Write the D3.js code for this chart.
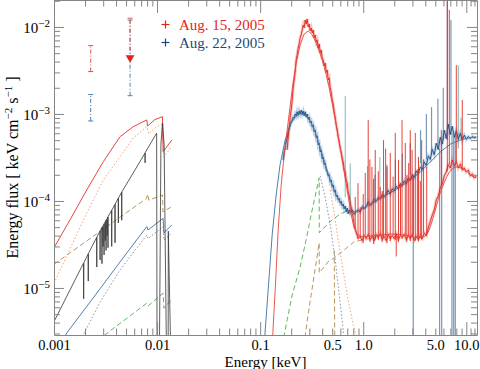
<!DOCTYPE html>
<html><head><meta charset="utf-8">
<script src="https://cdn.jsdelivr.net/npm/d3@7"></script>
<style>body{margin:0;background:#fff}svg{display:block}</style>
</head><body><svg id="c" width="480" height="369"></svg>
<script>
// ---------- axis limits & ticks ----------
const xDomain = [0.001, 12.7];
const yDomain = [2.88e-6, 2.04e-2];
const xMajor = [0.001, 0.01, 0.1, 1, 10];
const xMinor = [0.002,0.003,0.004,0.005,0.006,0.007,0.008,0.009,0.02,0.03,0.04,0.05,0.06,0.07,0.08,0.09,0.2,0.3,0.4,0.5,0.6,0.7,0.8,0.9,2,3,4,5,6,7,8,9,11,12];
const xLabels = [[0.001,"0.001"],[0.01,"0.01"],[0.1,"0.1"],[0.5,"0.5"],[1,"1.0"],[5,"5.0"],[10,"10.0"]];
const yMajor = [1e-5, 1e-4, 1e-3, 1e-2];
const yMinor = [3e-6,4e-6,5e-6,6e-6,7e-6,8e-6,9e-6,2e-5,3e-5,4e-5,5e-5,6e-5,7e-5,8e-5,9e-5,2e-4,3e-4,4e-4,5e-4,6e-4,7e-4,8e-4,9e-4,2e-3,3e-3,4e-3,5e-3,6e-3,7e-3,8e-3,9e-3,2e-2];
const yLabelExp = [[1e-5,"−5"],[1e-4,"−4"],[1e-3,"−3"],[1e-2,"−2"]];
const legendLabels = ["Aug. 15, 2005", "Aug. 22, 2005"];

// ---------- optical / UV models ----------
const redOpt = [[0.001,2.9e-5],[0.00143,6.07e-5],[0.00208,1.34e-4],[0.00301,2.83e-4],[0.00437,5.48e-4],[0.00588,7.14e-4],[0.00794,8.53e-4],[0.0081,7.28e-4],[0.0095,8.6e-4],[0.01128,9.3e-4],[0.01144,3.69e-4],[0.0139,5.02e-4]];
const orangeOpt = [[0.001,1.13e-5],[0.00208,7.3e-5],[0.00301,1.74e-4],[0.00437,3.23e-4],[0.00588,5.3e-4],[0.00794,7.14e-4],[0.0083,5.9e-4],[0.0097,7.0e-4],[0.01144,7.8e-4],[0.0116,3.23e-4],[0.0139,4.2e-4]];
const brownOpt = [[0.001,1.87e-5],[0.0028,4.47e-5],[0.0079,1.07e-4],[0.0081,1.2e-4],[0.0083,1.02e-4],[0.0113,1.17e-4],[0.0114,7.5e-5],[0.0139,8.6e-5]];
const blueOpt = [[0.00125,2.66e-6],[0.00133,3.04e-6],[0.0028,9.8e-6],[0.00437,1.99e-5],[0.00794,5.07e-5],[0.00818,4.64e-5],[0.01144,6.32e-5],[0.01165,4.29e-5],[0.0139,5.3e-5]];
const blueDotOpt = [[0.00183,2.52e-6],[0.00193,2.9e-6],[0.0028,6.9e-6],[0.00437,1.61e-5],[0.00794,4.06e-5],[0.00818,3.7e-5],[0.01144,5.07e-5],[0.01165,3.56e-5],[0.0139,4.26e-5]];
const greenOpt = [[0.00267,2.52e-6],[0.00794,6.67e-6],[0.00818,6.2e-6],[0.01144,8.7e-6],[0.01165,5.85e-6],[0.0139,7.4e-6]];
const blackOpt = [[0.001,4.1e-6],[0.0019,1.85e-5],
 [0.00193,1.92e-5],[0.00194,7.5e-6],[0.00195,1.95e-5],
 [0.00214,2.45e-5],[0.00215,1.2e-5],[0.00216,2.5e-5],
 [0.00259,3.8e-5],[0.0026,1.74e-5],[0.00261,3.85e-5],
 [0.00279,4.5e-5],[0.0028,2.1e-5],[0.00281,4.55e-5],
 [0.00291,4.95e-5],[0.00292,1.9e-5],[0.00293,5.0e-5],
 [0.00297,5.1e-5],[0.00299,3.0e-5],[0.003,5.2e-5],
 [0.00305,5.4e-5],[0.00306,2.4e-5],[0.00307,5.5e-5],
 [0.00313,5.7e-5],[0.00314,3.5e-5],[0.00315,5.8e-5],
 [0.00319,6.0e-5],[0.0032,2.7e-5],[0.00321,6.05e-5],
 [0.00327,6.2e-5],[0.00328,4.0e-5],[0.00329,6.3e-5],
 [0.00333,6.55e-5],[0.00334,2.9e-5],[0.00335,6.6e-5],
 [0.00362,7.8e-5],[0.00363,3.0e-5],[0.00364,7.85e-5],
 [0.0039,9.1e-5],[0.00391,3.3e-5],[0.00392,9.2e-5],
 [0.0042,1.07e-4],[0.00421,5.6e-5],[0.00422,1.08e-4],
 [0.00453,1.26e-4],[0.00454,6.0e-5],[0.00455,1.27e-4],
 [0.00468,1.34e-4],
 [0.00764,3.55e-4],[0.00765,2.74e-4],[0.00766,3.58e-4],
 [0.00794,3.86e-4],[0.0099,6.0e-4],[0.01,1e-6],[0.0105,1e-6],[0.0109,4.5e-4],[0.01128,7.8e-4],[0.0117,4.5e-4],[0.0124,1e-6],
 [0.0128,1e-6],[0.01285,4.5e-5],[0.0137,1e-6]];

// UV photometry: [E, low, high]
const redBars = [[0.00227, 3.07e-3, 6.1e-3]];
const redLimits = [[0.00547, 4.2e-3, 1.26e-2]];
const blueBars = [[0.00227, 8.3e-4, 1.67e-3],[0.00547, 1.62e-3, 1.2e-2]];

// ---------- X-ray models ----------
const redModelX = [[0.1308,2.2e-6],[0.14,9.5e-6],[0.1496,4.64e-5],[0.16,1.53e-4],[0.171,3.38e-4],[0.187,8.1e-4],[0.2045,1.89e-3],[0.2236,3.86e-3],[0.2445,6.21e-3],[0.2674,8.3e-3],[0.2924,8.99e-3],[0.3197,8.09e-3],[0.3496,6.55e-3],[0.3823,4.9e-3],[0.4181,3.47e-3],[0.4572,2.27e-3],[0.5,1.34e-3],[0.5468,7.47e-4],[0.5979,4.07e-4],[0.6538,2.15e-4],[0.7151,1.14e-4],[0.7646,6.9e-5],[0.818,4.9e-5],[0.8744,4.18e-5],[0.978,3.86e-5],[1.17,3.96e-5],[1.462,4.07e-5],[1.912,4.18e-5],[2.501,4.07e-5],[3.058,3.86e-5],[3.497,3.76e-5],[4.0,3.96e-5],[4.277,4.4e-5],[4.573,5.44e-5],[4.89,7.1e-5],[5.229,9.48e-5],[5.592,1.24e-4],[5.98,1.53e-4],[6.394,1.84e-4],[6.839,2.15e-4],[7.313,2.33e-4],[7.82,2.46e-4],[8.362,2.46e-4],[8.942,2.39e-4],[9.563,2.27e-4],[10.23,2.15e-4],[10.94,1.99e-4],[11.7,1.89e-4],[12.51,1.84e-4]];
const blueModelX = [[0.1093,2.2e-6],[0.1196,9.5e-6],[0.1308,4.07e-5],[0.143,1.17e-4],[0.156,2.6e-4],[0.1748,5.02e-4],[0.1956,7.5e-4],[0.2186,9.2e-4],[0.2445,1.0e-3],[0.2734,9.7e-4],[0.3058,8.3e-4],[0.3419,6.2e-4],[0.3823,4.07e-4],[0.4275,2.66e-4],[0.4781,1.74e-4],[0.5347,1.24e-4],[0.5979,9.5e-5],[0.6686,8.1e-5],[0.7478,7.5e-5],[0.8551,7.5e-5],[0.978,8.1e-5],[1.17,9.2e-5],[1.462,1.07e-4],[1.829,1.24e-4],[2.287,1.45e-4],[2.86,1.74e-4],[3.577,2.15e-4],[4.473,2.8e-4],[5.592,3.66e-4],[6.992,4.5e-4],[8.745,5.02e-4],[10.46,5.3e-4],[12.51,5.44e-4]];
const greenX = [[0.1635,2.2e-6],[0.1829,4.3e-6],[0.2045,8.3e-6],[0.2445,1.74e-5],[0.2796,3.6e-5],[0.3197,7.9e-5],[0.3738,1.84e-4],[0.3745,4.3e-5],[0.4781,5.8e-5],[0.5979,7.1e-5],[0.7478,7.9e-5]];
const brownX = [[0.265,2.2e-6],[0.2924,5.0e-6],[0.3343,1.4e-5],[0.3738,3.3e-5],[0.3745,1.49e-5],[0.4572,2.0e-5],[0.5468,2.3e-5],[0.818,3.4e-5],[1.56,4.0e-5]];
const brown2X = [[0.5229,2.7e-5],[0.53,2.2e-6]];
const orangeX = [[0.4781,1.34e-4],[0.5229,7.2e-5],[0.5718,3.56e-5],[0.6252,1.84e-5],[0.6993,8.3e-6],[0.7819,4.29e-6],[0.8744,2.5e-6]];
const grayX = [[0.3823,1.94e-4],[0.4275,1.11e-4],[0.4781,5.3e-5],[0.5347,2.1e-5],[0.5848,8.3e-6],[0.6394,3.3e-6],[0.6538,2.5e-6]];

// ---------- X-ray data ----------
const redData = [[0.1829,3.86e-4],[0.187,5.3e-4],[0.1912,6.9e-4],[0.1956,9.2e-4],[0.2,1.11e-3],[0.2045,1.45e-3],[0.2091,2.0e-3],[0.2138,2.46e-3],[0.2186,3.0e-3],[0.2236,4.2e-3],[0.2286,4.8e-3],[0.2338,5.7e-3],[0.2391,6.4e-3],[0.2445,7.5e-3],[0.25,8.1e-3],[0.2557,9.24e-3],[0.2615,1.054e-2],[0.2674,9.74e-3],[0.2734,1.2e-2],[0.2796,1.08e-2],[0.2859,1.235e-2],[0.2924,1.0e-2],[0.299,1.08e-2],[0.3058,9.0e-3],[0.3127,9.74e-3],[0.3197,8.5e-3],[0.3269,9.24e-3],[0.3343,7.5e-3],[0.3419,8.1e-3],[0.3496,6.7e-3],[0.3575,7.1e-3],[0.3656,5.7e-3],[0.3738,6.4e-3],[0.3823,5.0e-3],[0.3909,5.44e-3],[0.3998,4.4e-3],[0.4088,4.2e-3],[0.4181,3.56e-3],[0.4275,3.86e-3],[0.4372,3.0e-3],[0.4471,3.2e-3],[0.4572,2.46e-3],[0.4675,2.6e-3],[0.4781,2.0e-3],[0.4889,1.79e-3],[0.5,1.45e-3],[0.5113,1.3e-3],[0.5229,1.06e-3],[0.5347,9.2e-4],[0.5468,7.5e-4],[0.5592,6.55e-4],[0.5718,5.44e-4],[0.5848,4.75e-4],[0.5979,4.07e-4],[0.6114,3.66e-4],[0.6252,3.12e-4],[0.6394,2.8e-4],[0.6538,2.27e-4],[0.6686,2.15e-4],[0.6839,1.74e-4],[0.6993,1.61e-4],[0.7151,1.27e-4],[0.7313,1.14e-4],[0.7478,9.5e-5],[0.7646,8.5e-5],[0.7819,7.1e-5],[0.7997,6.4e-5],[0.818,5.2e-5],[0.836,4.8e-5],[0.8551,4.3e-5],[0.8745,4.0e-5],[0.8942,3.7e-5],
[0.935,3.9e-5],[0.978,3.5e-5],[1.022,4.0e-5],[1.069,3.7e-5],[1.118,4.1e-5],[1.17,3.6e-5],[1.223,3.9e-5],[1.279,3.5e-5],[1.338,4.1e-5],[1.399,3.8e-5],[1.462,4.2e-5],[1.53,3.6e-5],[1.6,3.9e-5],[1.672,3.5e-5],[1.749,4.1e-5],[1.829,3.7e-5],[1.912,4.0e-5],[2.0,3.7e-5],[2.091,4.2e-5],[2.187,3.6e-5],[2.287,4.0e-5],[2.392,3.8e-5],[2.501,4.1e-5],[2.616,3.6e-5],[2.735,4.0e-5],[2.86,3.7e-5],[2.991,4.1e-5],[3.128,3.5e-5],[3.27,3.9e-5],[3.42,3.6e-5],[3.577,4.0e-5],[3.74,3.7e-5],[3.911,4.3e-5],[4.09,4.0e-5],[4.277,4.9e-5],[4.473,5.8e-5],[4.677,6.9e-5],[4.89,7.9e-5],[5.114,1.03e-4],[5.348,1.14e-4],[5.592,1.41e-4],[5.848,1.57e-4],[6.115,1.94e-4],[6.394,2.15e-4],[6.687,2.6e-4],[6.992,2.39e-4],[7.313,2.96e-4],[7.647,2.52e-4],[7.997,2.8e-4],[8.362,2.39e-4],[8.745,2.66e-4],[9.145,2.27e-4],[9.563,2.39e-4],[10.0,2.15e-4],[10.46,2.27e-4],[10.94,1.94e-4],[11.44,2.05e-4],[11.96,1.84e-4],[12.51,1.94e-4]];
const redSpikes = [[0.836,4.8e-5,1.11e-4],[0.89,3.7e-5,1.6e-4],[0.935,3.76e-5,8.5e-5],[1.0,3.3e-5,1.2e-4],[1.046,4.0e-5,2.1e-4],[1.118,4.07e-5,8.5e-4],[1.16,3.4e-5,3.0e-4],[1.215,3.86e-5,2.46e-4],[1.26,3.2e-5,1.8e-4],[1.308,3.6e-5,3.86e-4],[1.4,3.56e-5,2.2e-4],[1.462,4.2e-5,1.45e-4],[1.53,3.4e-5,1.3e-4],[1.575,3.86e-5,5.0e-4],[1.65,3.86e-5,4.0e-4],[1.7,3.3e-5,2.46e-4],[1.829,3.45e-5,3.56e-4],[1.95,4.0e-5,1.9e-4],[2.045,3.56e-5,6.05e-4],[2.2,3.4e-5,2.96e-4],[2.3,4.0e-5,1.6e-4],[2.38,3.7e-5,8.5e-4],[2.56,4.0e-5,4.64e-4],[2.65,3.4e-5,2.0e-4],[2.76,4.0e-5,2.73e-4],[2.86,3.45e-5,6.5e-4],[2.98,4.0e-5,3.86e-4],[3.06,4.1e-5,1.9e-4],[3.2,3.5e-5,6.05e-4],[3.35,3.86e-5,2.3e-4],[3.44,3.45e-5,3.2e-4],[3.58,4.0e-5,1.7e-4],[3.69,3.6e-5,5.0e-4],[3.85,4.3e-5,3.0e-4],[4.13,4.0e-5,2.46e-4],[5.72,1.5e-4,6.55e-4],[6.54,2.2e-4,0.03],[6.84,2.6e-4,1.57e-2],[8.0,2.8e-4,3.65e-3],[9.14,2.3e-4,1.45e-3],[2.09,2.3e-5,4.2e-5]];
const blueData = [[0.1672,2.96e-4],[0.171,3.66e-4],[0.1748,4.07e-4],[0.1788,4.75e-4],[0.1829,5.3e-4],[0.187,6.2e-4],[0.1912,6.9e-4],[0.1956,7.3e-4],[0.2,8.1e-4],[0.2045,8.5e-4],[0.2091,9.2e-4],[0.2138,8.95e-4],[0.2186,1.0e-3],[0.2236,9.5e-4],[0.2286,1.06e-3],[0.2338,9.7e-4],[0.2391,1.08e-3],[0.2445,1.0e-3],[0.25,1.11e-3],[0.2557,1.0e-3],[0.2615,1.08e-3],[0.2674,9.5e-4],[0.2734,1.06e-3],[0.2796,9.2e-4],[0.2859,1.0e-3],[0.2924,8.7e-4],[0.299,9.2e-4],[0.3058,7.9e-4],[0.3127,8.3e-4],[0.3197,7.1e-4],[0.3269,7.5e-4],[0.3343,6.2e-4],[0.3419,6.55e-4],[0.3496,5.3e-4],[0.3575,5.6e-4],[0.3656,4.4e-4],[0.3738,4.64e-4],[0.3823,3.66e-4],[0.3909,3.86e-4],[0.3998,3.04e-4],[0.4088,3.2e-4],[0.4181,2.6e-4],[0.4275,2.73e-4],[0.4372,2.27e-4],[0.4471,2.15e-4],[0.4572,1.94e-4],[0.4675,2.0e-4],[0.4781,1.66e-4],[0.4889,1.74e-4],[0.5,1.45e-4],[0.5113,1.53e-4],[0.5229,1.27e-4],[0.5347,1.34e-4],[0.5468,1.11e-4],[0.5592,1.17e-4],[0.5718,1.03e-4],[0.5848,1.07e-4],[0.5979,9.5e-5],[0.6114,9.9e-5],[0.6252,8.76e-5],[0.6394,9.2e-5],[0.6538,8.1e-5],[0.6686,8.76e-5],[0.6839,7.5e-5],[0.6993,8.3e-5],[0.7151,7.1e-5],[0.7313,7.9e-5],
[0.7478,7.2e-5],[0.7819,7.9e-5],[0.818,7.0e-5],[0.8551,7.6e-5],[0.8942,7.9e-5],[0.935,7.4e-5],[0.978,8.6e-5],[1.022,8.2e-5],[1.069,8.5e-5],[1.118,9.8e-5],[1.17,8.9e-5],[1.223,9.4e-5],[1.279,1.04e-4],[1.338,9.9e-5],[1.399,1.1e-4],[1.462,1.05e-4],[1.53,1.18e-4],[1.6,1.12e-4],[1.672,1.2e-4],[1.749,1.32e-4],[1.829,1.2e-4],[1.912,1.38e-4],[2.0,1.3e-4],[2.091,1.48e-4],[2.187,1.38e-4],[2.287,1.58e-4],[2.392,1.5e-4],[2.501,1.7e-4],[2.616,1.58e-4],[2.735,1.84e-4],[2.86,1.74e-4],[2.991,2.0e-4],[3.128,1.86e-4],[3.27,2.2e-4],[3.42,2.08e-4],[3.577,2.45e-4],[3.74,2.3e-4],[3.911,2.8e-4],[4.09,2.55e-4],[4.277,3.3e-4],[4.473,3.0e-4],[4.677,3.9e-4],[4.89,3.4e-4],[5.114,4.6e-4],[5.348,3.9e-4],[5.592,5.4e-4],[5.848,4.5e-4],[6.115,6.5e-4],[6.394,5.2e-4],[6.687,7.6e-4],[6.992,5.8e-4],[7.313,7.2e-4],[7.647,5.4e-4],[7.997,6.4e-4],[8.362,5.1e-4],[8.745,6.0e-4],[9.145,5.0e-4],[9.563,5.7e-4],[10.0,5.1e-4],[10.46,5.5e-4],[10.94,5.2e-4],[11.44,5.5e-4],[11.96,5.3e-4],[12.51,5.4e-4]];
const blueSpikes = [[3.058,1e-6,2.0e-4],[5.506,1e-6,4.0e-4],[5.77,1e-6,4.5e-4],[7.26,1e-6,6e-4],[7.55,1e-6,5.5e-4],[7.82,1e-6,6e-4],[1.3,9.5e-5,2.0e-4],[1.7,1.2e-4,2.6e-4],[2.05,1.3e-4,3.0e-4],[2.4,1.6e-4,3.5e-4],[2.86,2e-4,4.6e-4],[3.6,2.7e-4,6.5e-4],[4.1,3e-4,1e-3],[4.6,3.5e-4,1.2e-3],[5.3,4e-4,1.5e-3],[5.98,5e-4,2e-3],[6.55,5e-4,0.03],[7.1,6e-4,0.012]];
const tealSpikes = [[0.669,1.1e-4,1.6e-3],[0.748,8e-5,2.7e-4],[1.1,9e-5,2.5e-4],[1.45,1.1e-4,3.2e-4],[8.36,4e-4,3.6e-3],[8.9,5e-4,9e-4]];

// ---------- drawing ----------
const L = 54, R = 477, T = 0, B = 335;
const svg = d3.select("#c");
const x = d3.scaleLog().domain(xDomain).range([L, R]);
const y = d3.scaleLog().domain(yDomain).range([B, T]);
const FONT = '"Liberation Serif","Times New Roman",serif';

svg.append("defs").append("clipPath").attr("id","clip")
  .append("rect").attr("x",L).attr("y",T).attr("width",R-L).attr("height",B-T);
const plot = svg.append("g").attr("clip-path","url(#clip)");
const line = d3.line().x(d=>x(d[0])).y(d=>y(d[1]));

function path(data, color, width, dash, op){
  plot.append("path").datum(data).attr("d",line).attr("fill","none")
    .attr("stroke",color).attr("stroke-width",width||1)
    .attr("stroke-dasharray",dash||null).attr("opacity",op==null?1:op);
}
function spikes(data, color, width, op){
  plot.append("g").selectAll("line").data(data).join("line")
    .attr("x1",d=>x(d[0])).attr("x2",d=>x(d[0]))
    .attr("y1",d=>y(d[1])).attr("y2",d=>y(d[2]))
    .attr("stroke",color).attr("stroke-width",width||1).attr("opacity",op==null?1:op);
}

const C = {red:"#e2231a", redL:"#f29a94", blue:"#1b4a7a", blueL:"#8fb0cf", steel:"#4f7fae",
  orange:"#f2a27a", brown:"#b89660", green:"#5fb85a", gray:"#8895a8", black:"#333333", teal:"#4f9a9a"};

// optical models
path(greenOpt, C.green, 1, "5,3");
path(brownOpt, C.brown, 1, "5,3");
path(blueDotOpt, C.gray, 1, "1.5,2");
path(orangeOpt, C.orange, 1, "1.5,2");
path(blueOpt, C.steel, 1);
path(redOpt, "#e8453c", 1);
path(blackOpt, C.black, 0.8);

// x-ray models
path(greenX, C.green, 1, "5,3");
path(brownX, C.brown, 1, "5,3");
path(brown2X, C.brown, 1, "5,3");
path(orangeX, C.orange, 1, "1.5,2");
path(grayX, C.gray, 1, "1.5,2");

// data
path(blueData, C.blueL, 3, null, 0.55);
path(redData, C.redL, 3, null, 0.55);
spikes(blueSpikes, "#5a7fa6", 1.2, 0.8);
spikes(tealSpikes, C.teal, 1, 0.7);
path(blueData, C.blue, 0.9);
path(blueModelX, C.steel, 1);
spikes(redSpikes, C.red, 1, 0.85);
path(redData, C.red, 0.9);
path(redModelX, "#e8453c", 0.9);

// UV photometry bars
function bars(data, color){
  svg.append("g").selectAll("line").data(data).join("line")
    .attr("x1",d=>x(d[0])).attr("x2",d=>x(d[0])).attr("y1",d=>y(d[1])).attr("y2",d=>y(d[2]))
    .attr("stroke",color).attr("stroke-dasharray","4,2,1,2");
}
function caps(data, color, which){
  svg.append("g").selectAll("line").data(data).join("line")
    .attr("x1",d=>x(d[0])-2.5).attr("x2",d=>x(d[0])+2.5)
    .attr("y1",d=>y(d[which])).attr("y2",d=>y(d[which])).attr("stroke",color);
}
bars(blueBars, "#4d7eab"); caps(blueBars, "#4d7eab", 1); caps(blueBars, "#4d7eab", 2);
bars(redBars, "#e0504a"); caps(redBars, "#e0504a", 1); caps(redBars, "#e0504a", 2);
bars(redLimits, "#e0504a"); caps(redLimits, "#e0504a", 2);
svg.append("g").selectAll("path").data(redLimits).join("path")
  .attr("d", d3.symbol(d3.symbolTriangle, 34)())
  .attr("transform", d=>`translate(${x(d[0])},${y(d[1])-2}) rotate(180)`)
  .attr("fill", C.red);

// ---------- axes ----------
const AX = "#858585";
function styleAxis(g, keepDomain, fs){
  g.attr("font-family", FONT).attr("font-size", fs||15);
  g.selectAll(".tick line").attr("stroke", AX);
  g.select(".domain").attr("stroke", keepDomain ? AX : "none");
  g.selectAll("text").attr("fill", "#000");
}
// bottom
svg.append("g").attr("transform",`translate(0,${B})`).call(d3.axisBottom(x).tickValues(xMajor).tickSize(-13).tickSizeOuter(0).tickFormat("")).call(g=>styleAxis(g,true));
svg.append("g").attr("transform",`translate(0,${B})`).call(d3.axisBottom(x).tickValues(xMinor).tickSize(-6.5).tickSizeOuter(0).tickFormat("")).call(g=>styleAxis(g,false));
const xlab = new Map(xLabels);
svg.append("g").attr("transform",`translate(0,${B})`).call(d3.axisBottom(x).tickValues(xLabels.map(d=>d[0])).tickSize(0).tickPadding(5).tickSizeOuter(0).tickFormat(d=>xlab.get(d))).call(g=>styleAxis(g,false,14.5));
// top
svg.append("g").attr("transform",`translate(0,${T})`).call(d3.axisTop(x).tickValues(xMajor).tickSize(-13).tickSizeOuter(0).tickFormat("")).call(g=>styleAxis(g,true));
svg.append("g").attr("transform",`translate(0,${T})`).call(d3.axisTop(x).tickValues(xMinor).tickSize(-6.5).tickSizeOuter(0).tickFormat("")).call(g=>styleAxis(g,false));
// left
svg.append("g").attr("transform",`translate(${L},0)`).call(d3.axisLeft(y).tickValues(yMajor).tickSize(-10).tickSizeOuter(0).tickFormat("")).call(g=>styleAxis(g,true));
svg.append("g").attr("transform",`translate(${L},0)`).call(d3.axisLeft(y).tickValues(yMinor).tickSize(-6).tickSizeOuter(0).tickFormat("")).call(g=>styleAxis(g,false));
const yexp = new Map(yLabelExp);
const yl = svg.append("g").attr("transform",`translate(${L},0)`).call(d3.axisLeft(y).tickValues(yLabelExp.map(d=>d[0])).tickSize(0).tickPadding(4).tickSizeOuter(0).tickFormat("")).call(g=>styleAxis(g,false));
yl.selectAll(".tick text").each(function(d){
  const t = d3.select(this).text(null).attr("dy","0.38em");
  t.append("tspan").text("10");
  t.append("tspan").attr("dy","-6").attr("font-size",11).text(yexp.get(d));
});
// right
svg.append("g").attr("transform",`translate(${R},0)`).call(d3.axisRight(y).tickValues(yMajor).tickSize(-10).tickSizeOuter(0).tickFormat("")).call(g=>styleAxis(g,true));
svg.append("g").attr("transform",`translate(${R},0)`).call(d3.axisRight(y).tickValues(yMinor).tickSize(-6).tickSizeOuter(0).tickFormat("")).call(g=>styleAxis(g,false));

// axis titles
svg.append("text").attr("x",(L+R)/2).attr("y",366.5).attr("text-anchor","middle")
  .attr("font-family",FONT).attr("font-size",15).text("Energy [keV]");
const yt = svg.append("text").attr("transform",`translate(18,${(T+B)/2}) rotate(-90)`)
  .attr("text-anchor","middle").attr("font-family",FONT).attr("font-size",16);
yt.append("tspan").text("Energy flux [ keV cm");
yt.append("tspan").attr("dy","-6").attr("font-size",11).text("−2");
yt.append("tspan").attr("dy","6").text(" s");
yt.append("tspan").attr("dy","-6").attr("font-size",11).text("−1");
yt.append("tspan").attr("dy","6").text(" ]");

// legend
const legColors = [C.red, C.blue];
legendLabels.forEach((lab,i)=>{
  const cy = 24.5 + i*18, cx = 165.5;
  svg.append("line").attr("x1",cx-4).attr("x2",cx+4).attr("y1",cy).attr("y2",cy).attr("stroke",legColors[i]).attr("stroke-width",1.2);
  svg.append("line").attr("x1",cx).attr("x2",cx).attr("y1",cy-4).attr("y2",cy+4).attr("stroke",legColors[i]).attr("stroke-width",1.2);
  svg.append("text").attr("x",179).attr("y",cy+5).attr("font-family",FONT).attr("font-size",15)
    .attr("fill",legColors[i]).text(lab);
});
</script></body></html>
